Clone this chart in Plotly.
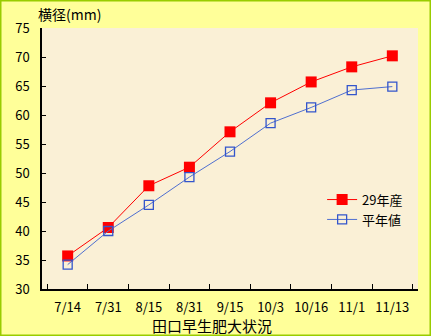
import plotly.graph_objects as go

categories = ["7/14", "7/31", "8/15", "8/31", "9/15", "10/3", "10/16", "11/1", "11/13"]
series_2017 = [35.7, 40.6, 47.8, 51.0, 57.1, 62.1, 65.7, 68.3, 70.2]
series_normal = [34.2, 40.0, 44.5, 49.3, 53.7, 58.6, 61.3, 64.3, 64.9]
name_2017 = "29年産"
name_normal = "平年値"
y_title = "横径(mm)"
x_title = "田口早生肥大状況"

FONT = "Noto Sans CJK JP, DejaVu Sans, sans-serif"

fig = go.Figure()
fig.add_trace(go.Scatter(
    x=categories, y=series_2017, name=name_2017, mode="lines+markers",
    line=dict(color="#FF0000", width=1),
    marker=dict(symbol="square", size=11, color="#FF0000", line=dict(width=0)),
))
fig.add_trace(go.Scatter(
    x=categories, y=series_normal, name=name_normal, mode="lines+markers",
    line=dict(color="#4F6FD0", width=1),
    marker=dict(symbol="square-open", size=9, color="#3355CC", line=dict(width=1.3)),
))

fig.update_layout(
    width=431, height=336,
    margin=dict(l=42, r=13, t=28, b=47),
    paper_bgcolor="#FFFF99",
    plot_bgcolor="#FAF0D6",
    font=dict(family=FONT, size=13, color="#000000"),
    showlegend=True,
    legend=dict(x=0.745, y=0.40, xanchor="left", yanchor="top",
                bgcolor="rgba(0,0,0,0)", font=dict(size=13),
                itemwidth=30, tracegroupgap=2),
    xaxis=dict(type="category", showline=True, linecolor="#000000", linewidth=1.5,
               ticks="inside", ticklen=5, tickcolor="#000000", tickson="boundaries",
               showgrid=False, zeroline=False, mirror=False, tickangle=0,
               tickfont=dict(size=13), ticklabelstandoff=6),
    yaxis=dict(range=[30, 75], dtick=5, showline=True, linecolor="#000000", linewidth=1.5,
               ticks="inside", ticklen=4, tickcolor="#000000",
               showgrid=False, zeroline=False,
               tickfont=dict(size=13), ticklabelstandoff=8),
    annotations=[
        dict(text=y_title, xref="paper", yref="paper", x=-0.017, y=1.0, yshift=2,
             xanchor="left", yanchor="bottom", showarrow=False, font=dict(size=14)),
        dict(text=x_title, xref="paper", yref="paper", x=0.452, y=0, yshift=-24,
             xanchor="center", yanchor="top", showarrow=False, font=dict(size=15)),
    ],
    shapes=[
        dict(type="rect", xref="paper", yref="paper", x0=-42/376, x1=1+13/376,
             y0=-47/261, y1=1+28/261, line=dict(color="#99CC00", width=3),
             fillcolor="rgba(0,0,0,0)", layer="above"),
    ],
)

fig.write_html("out.html")
